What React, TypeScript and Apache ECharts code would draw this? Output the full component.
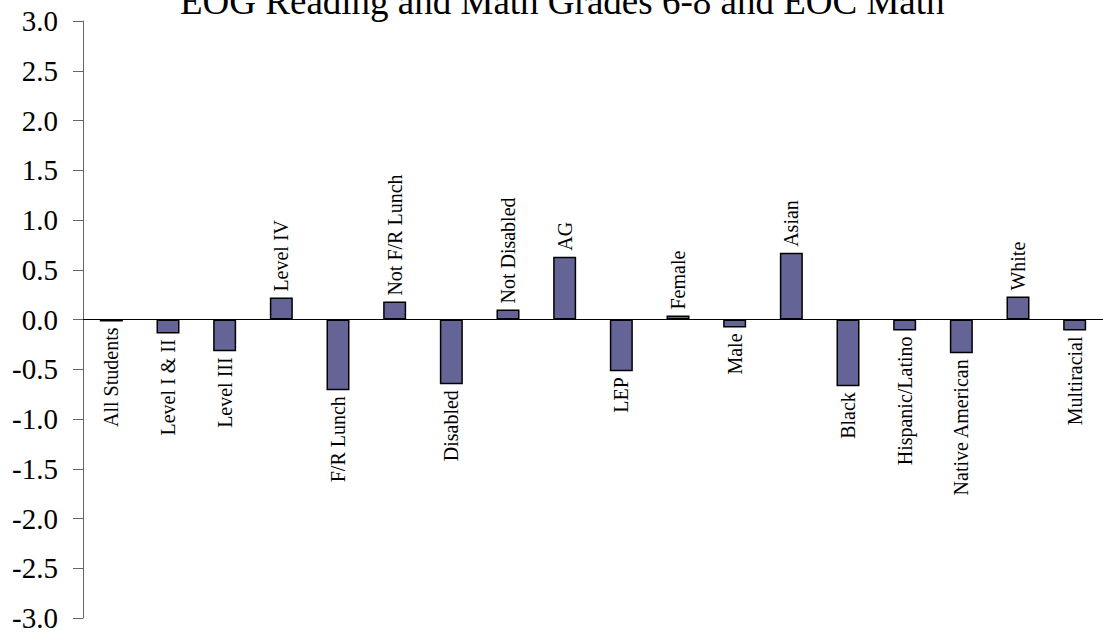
import React, { useEffect, useRef } from "react";
import * as echarts from "echarts";

const categories = [
  "All Students", "Level I & II", "Level III", "Level IV", "F/R Lunch", "Not F/R Lunch",
  "Disabled", "Not Disabled", "AG", "LEP", "Female", "Male", "Asian", "Black",
  "Hispanic/Latino", "Native American", "White", "Multiracial",
];
const values = [
  -0.02, -0.14, -0.32, 0.22, -0.71, 0.18, -0.65, 0.1, 0.63, -0.52, 0.04, -0.08, 0.67, -0.67,
  -0.11, -0.34, 0.23, -0.11,
];
const yTicks = { min: -3, max: 3, interval: 0.5 };
const titleText = "EOG Reading and Math Grades 6-8 and EOC Math";

const FONT = "Liberation Serif";

export default function App() {
  const ref = useRef<HTMLDivElement>(null);
  useEffect(() => {
    if (!ref.current) return;
    const chart = echarts.init(ref.current, undefined, { renderer: "svg" });
    chart.setOption({
      animation: false,
      backgroundColor: "#ffffff",
      textStyle: { fontFamily: FONT },
      title: {
        text: titleText,
        left: 175,
        top: -22,
        textStyle: { fontFamily: FONT, fontSize: 37, fontWeight: "normal", color: "#000" },
      },
      grid: { left: 83, right: -6, top: 21, bottom: 22, containLabel: false },
      xAxis: {
        type: "category",
        data: categories,
        axisLine: { show: true, onZero: true, lineStyle: { color: "#000", width: 1 } },
        axisTick: { show: false },
        axisLabel: { show: false },
        splitLine: { show: false },
      },
      yAxis: {
        type: "value",
        min: yTicks.min,
        max: yTicks.max,
        interval: yTicks.interval,
        axisLine: { show: true, lineStyle: { color: "#666", width: 1 } },
        axisTick: { show: true, length: 10, lineStyle: { color: "#666", width: 1 } },
        axisLabel: {
          margin: 25,
          fontFamily: FONT,
          fontSize: 29,
          color: "#000",
          formatter: (v: number) => v.toFixed(1),
        },
        splitLine: { show: false },
      },
      series: [
        {
          type: "bar",
          barWidth: 23,
          itemStyle: { color: "#646497", borderColor: "#000", borderWidth: 1.5 },
          data: values.map((v) => ({
            value: v,
            label: {
              show: true,
              position: v >= 0 ? "top" : "bottom",
              rotate: 90,
              align: v >= 0 ? "left" : "right",
              verticalAlign: "middle",
              distance: 6,
              formatter: "{b}",
              fontFamily: FONT,
              fontSize: 20,
              color: "#000",
            },
          })),
        },
      ],
    });
    return () => chart.dispose();
  }, []);
  return (
    <div
      ref={ref}
      style={{ position: "absolute", left: 0, top: 0, width: 1103, height: 640, overflow: "hidden" }}
    />
  );
}
